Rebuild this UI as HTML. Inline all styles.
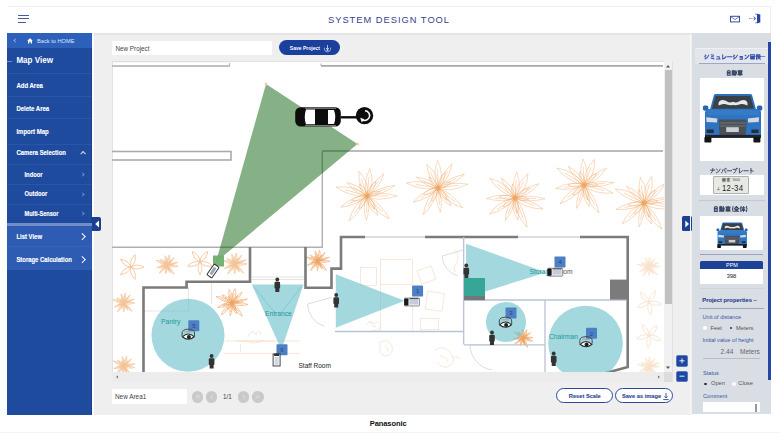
<!DOCTYPE html>
<html><head><meta charset="utf-8">
<style>
*{margin:0;padding:0;box-sizing:border-box}
html,body{width:779px;height:440px;overflow:hidden;background:#fff;font-family:"Liberation Sans",sans-serif}
.a{position:absolute}
.t{position:absolute;white-space:nowrap;line-height:1}
#topline{left:8px;top:6px;width:762px;height:1px;background:#f0f0f0}
.hb{left:18px;width:11px;height:1.3px;background:#4a5ba6}
#title{left:328px;top:15.8px;font-size:9.3px;letter-spacing:1px;color:#34428a}
#gray{left:94.3px;top:33px;width:597.7px;height:382px;background:#efefef;border-top:2px solid #e4e4e4}
#side{left:7px;top:33px;width:85px;height:382px;background:#1f4b9f;border-right:1px solid #1a3f8c}
#home{left:7px;top:33px;width:85px;height:15px;background:#2c60bb}
.mi{left:16.4px;font-size:6px;font-weight:bold;color:#fff;transform:scaleY(1.1);transform-origin:0 50%;-webkit-text-stroke:0.12px #fff}
.sub{left:24.5px;font-size:5.8px;font-weight:bold;color:#fff;transform:scaleY(1.1);transform-origin:0 50%;-webkit-text-stroke:0.12px #fff}
.dv{position:absolute;left:7px;width:85px;height:1px;background:#2a55a8}
.chev{position:absolute;width:3.5px;height:3.5px;border-right:1px solid #d0dcf2;border-top:1px solid #d0dcf2;transform:rotate(45deg)}
#rp{left:691.5px;top:33px;width:79px;height:381px;background:#d9dde4}
.rt{font-size:6px;font-weight:bold;color:#3d4f8f}
.wbox{position:absolute;background:#fff}
.inp{position:absolute;background:#fff;font-size:6.3px;color:#444}
.pbtn{position:absolute;width:11.4px;height:11.4px;border-radius:50%;background:#c9c9c9}
.obtn{position:absolute;height:15px;border:1.6px solid #2c4a9a;border-radius:8px;background:#fff;color:#34488f;font-size:5.7px;font-weight:bold;line-height:14.2px;text-align:center;-webkit-text-stroke:0.12px #34488f;border-width:1.8px}
.zbtn{position:absolute;width:12px;height:11.5px;border-radius:2px;background:#1f47a0;color:#fff;font-size:9px;line-height:11px;text-align:center}
.blab{font-size:5.6px;color:#3a55a8}
.glab{font-size:5.7px;color:#555}
</style></head><body>
<div class="a" id="topline"></div><div class="a" style="left:770.3px;top:6px;width:0.8px;height:27px;background:#f0f0f0"></div>
<div class="a hb" style="top:14.5px"></div>
<div class="a hb" style="top:18.2px"></div>
<div class="a hb" style="top:21.8px;width:7.5px"></div>
<div class="t" id="title">SYSTEM DESIGN TOOL</div>
<!-- mail icon -->
<svg class="a" style="left:729px;top:15px" width="12" height="8" viewBox="0 0 12 8"><rect x="1.5" y="1.3" width="9" height="5.6" fill="none" stroke="#3b4d9a" stroke-width="1"/><path d="M2 1.8 L6 4.6 L10 1.8" fill="none" stroke="#3b4d9a" stroke-width="0.7"/></svg>
<!-- exit icon -->
<svg class="a" style="left:748px;top:13px" width="14" height="11" viewBox="0 0 14 11"><path d="M1 5.5 H7.5" stroke="#6f7fb8" stroke-width="0.8" stroke-dasharray="1.5 0.7"/><path d="M5.6 3.6 L7.8 5.5 L5.6 7.4" fill="none" stroke="#3b4d9a" stroke-width="0.9"/><path d="M7.2 1.2 H9.5 M7.2 9.8 H9.5" stroke="#5a6fb5" stroke-width="0.9"/><path d="M9 0.7 L12.3 1.6 V9.4 L9 10.3 Z" fill="#2347a8"/></svg>

<div class="a" id="gray"></div>
<div class="a" id="side"></div>
<div class="a" id="home"></div>
<div class="chev" style="left:14.3px;top:39px;transform:rotate(-135deg);border-color:#8fa8d8;width:3px;height:3px;border-width:0.8px"></div>
<svg class="a" style="left:27.3px;top:37.6px" width="6" height="6" viewBox="0 0 6 6"><path d="M0.2 2.8 L3 0.2 L5.8 2.8 L5 2.8 L5 5.4 L3.7 5.4 L3.7 3.8 L2.3 3.8 L2.3 5.4 L1 5.4 L1 2.8 Z" fill="#fff"/></svg>
<div class="t" style="left:37px;top:38.2px;font-size:6.1px;color:#dfe7f7;transform:scaleX(0.93);transform-origin:0 0">Back to HOME</div>
<div class="a" style="left:7px;top:60.5px;width:5px;height:1px;background:#6d8fd0"></div>
<div class="t" style="left:16.4px;top:57.4px;font-size:8.06px;font-weight:bold;color:#fff;transform:scaleY(1.08);transform-origin:0 50%">Map View</div>
<div class="dv" style="top:73px"></div>
<div class="t mi" style="top:82.9px">Add Area</div>
<div class="dv" style="top:95.7px"></div>
<div class="t mi" style="top:105.6px">Delete Area</div>
<div class="dv" style="top:118.4px"></div>
<div class="t mi" style="top:128.6px">Import Map</div>
<div class="dv" style="top:143.5px"></div>
<div class="t mi" style="left:16.4px;top:151.2px;font-size:5.9px">Camera Selection</div>
<div class="chev" style="left:81px;top:152px;transform:rotate(-45deg)"></div>
<div class="dv" style="top:164px"></div>
<div class="t sub" style="top:172.8px">Indoor</div>
<div class="chev" style="left:81px;top:173px;width:3px;height:3px;border-color:#6f90cf;border-width:0.8px"></div>
<div class="dv" style="top:184px"></div>
<div class="t sub" style="top:191.9px">Outdoor</div>
<div class="chev" style="left:81px;top:192.5px;width:3px;height:3px;border-color:#6f90cf;border-width:0.8px"></div>
<div class="dv" style="top:203.5px"></div>
<div class="t sub" style="top:211.5px;font-size:5.6px;transform:scaleY(1.2)">Multi-Sensor</div>
<div class="chev" style="left:81px;top:212px;width:3px;height:3px;border-color:#6f90cf;border-width:0.8px"></div>
<div class="a" style="left:7px;top:223px;width:85px;height:3px;background:#6f8ec9"></div>
<div class="a" style="left:7px;top:226px;width:85px;height:43.5px;background:#2d5cb2"></div>
<div class="dv" style="top:246px;background:#3565bb"></div>
<div class="t mi" style="top:235.2px;font-size:5.95px">List View</div>
<div class="chev" style="left:80px;top:234px;width:4.5px;height:4.5px;border-color:#fff"></div>
<div class="t mi" style="top:257.8px;font-size:5.92px">Storage Calculation</div>
<div class="chev" style="left:80px;top:257px;width:4.5px;height:4.5px;border-color:#fff"></div>
<!-- collapse tab -->
<div class="a" style="left:91.5px;top:216.5px;width:9.5px;height:14.5px;background:#1c3f91;border-radius:0 2px 2px 0"></div>
<svg class="a" style="left:93px;top:219px" width="8" height="10" viewBox="0 0 8 10"><path d="M6 1.5 L2.2 5 L6 8.5 Z" fill="#fff"/></svg>

<!-- project name + save -->
<div class="inp" style="left:111.5px;top:40.5px;width:160px;height:14.7px;padding:4.5px 0 0 4px">New Project</div>
<div class="a" style="left:278.5px;top:40.2px;width:61.5px;height:15.3px;border-radius:8px;background:#1b409c"></div>
<div class="t" style="left:289.8px;top:45.5px;font-size:5.03px;font-weight:bold;color:#fff">Save Project</div>
<svg class="a" style="left:323.2px;top:43.8px" width="9" height="9" viewBox="0 0 9 9"><path d="M4.5 1 V5.2" stroke="#d8e0f4" stroke-width="0.8"/><path d="M3.2 4 L4.5 5.6 L5.8 4" fill="none" stroke="#d8e0f4" stroke-width="0.8"/><path d="M1.3 3.6 Q1.3 7.8 4.5 7.8 Q7.7 7.8 7.7 3.6" fill="none" stroke="#b9c6ea" stroke-width="0.8"/><rect x="3.6" y="5.6" width="1.8" height="1.1" fill="#fff"/></svg>

<!-- map frame -->
<div class="a" id="map" style="left:111.5px;top:61px;width:561px;height:321px;background:#fff;border:0.8px solid #e2e2e2"></div>
<svg class="a" style="left:112px;top:61px" width="552" height="311" viewBox="112 61 552 311"><defs><g id="fl"><path d="M0 0 Q7.3 -12.2 0 -27.6 Q-5.8 -12.2 0 0Z M0 -2 L0 -19.3" transform="rotate(-0.9)"/><path d="M0 0 Q5.5 -12.6 0 -27.9 Q-4.4 -12.6 0 0Z M0 -2 L0 -19.5" transform="rotate(30.1)"/><path d="M0 0 Q5.2 -12.3 0 -29.9 Q-4.2 -12.3 0 0Z M0 -2 L0 -21.0" transform="rotate(62.3)"/><path d="M0 0 Q6.7 -10.8 0 -30.1 Q-5.4 -10.8 0 0Z M0 -2 L0 -21.1" transform="rotate(82.6)"/><path d="M0 0 Q6.6 -15.0 0 -31.6 Q-5.3 -15.0 0 0Z M0 -2 L0 -22.2" transform="rotate(128.7)"/><path d="M0 0 Q6.3 -8.0 0 -22.2 Q-5.1 -8.0 0 0Z M0 -2 L0 -15.5" transform="rotate(143.8)"/><path d="M0 0 Q5.1 -10.8 0 -24.4 Q-4.1 -10.8 0 0Z M0 -2 L0 -17.1" transform="rotate(174.4)"/><path d="M0 0 Q6.3 -14.5 0 -30.4 Q-5.0 -14.5 0 0Z M0 -2 L0 -21.3" transform="rotate(208.9)"/><path d="M0 0 Q6.1 -11.6 0 -28.6 Q-4.9 -11.6 0 0Z M0 -2 L0 -20.0" transform="rotate(240.0)"/><path d="M0 0 Q7.1 -15.7 0 -32.0 Q-5.7 -15.7 0 0Z M0 -2 L0 -22.4" transform="rotate(279.0)"/><path d="M0 0 Q5.7 -8.8 0 -24.3 Q-4.6 -8.8 0 0Z M0 -2 L0 -17.0" transform="rotate(296.7)"/><path d="M0 0 Q7.1 -11.1 0 -26.0 Q-5.7 -11.1 0 0Z M0 -2 L0 -18.2" transform="rotate(334.8)"/><path d="M0 0 Q4 -8.6 0 -17.2 Q-4 -8.6 0 0Z" transform="rotate(24.2)"/><path d="M0 0 Q4 -7.0 0 -14.0 Q-4 -7.0 0 0Z" transform="rotate(65.0)"/><path d="M0 0 Q4 -7.7 0 -15.3 Q-4 -7.7 0 0Z" transform="rotate(143.2)"/><path d="M0 0 Q4 -7.5 0 -15.0 Q-4 -7.5 0 0Z" transform="rotate(204.6)"/><path d="M0 0 Q4 -8.1 0 -16.1 Q-4 -8.1 0 0Z" transform="rotate(246.5)"/><path d="M0 0 Q4 -7.2 0 -14.3 Q-4 -7.2 0 0Z" transform="rotate(320.6)"/><circle r="2.6" fill="currentColor" stroke="none" opacity="0.7"/></g><g id="lily"><path d="M0 0 Q9 -14 0 -30 Q-9 -14 0 0Z" transform="rotate(10)"/><path d="M0 0 Q9 -14 0 -30 Q-9 -14 0 0Z" transform="rotate(82)"/><path d="M0 0 Q9 -14 0 -30 Q-9 -14 0 0Z" transform="rotate(154)"/><path d="M0 0 Q9 -14 0 -30 Q-9 -14 0 0Z" transform="rotate(226)"/><path d="M0 0 Q9 -14 0 -30 Q-9 -14 0 0Z" transform="rotate(298)"/></g></defs><g fill="none"><use href="#fl" transform="translate(367 196) scale(1.000) rotate(7)" style="color:#efa462" stroke="#efa462" stroke-width="0.38"/><use href="#fl" transform="translate(438 188) scale(1.000) rotate(0)" style="color:#efa462" stroke="#efa462" stroke-width="0.38"/><use href="#fl" transform="translate(515 198) scale(1.000) rotate(29)" style="color:#efa462" stroke="#efa462" stroke-width="0.38"/><use href="#fl" transform="translate(584 185) scale(1.000) rotate(23)" style="color:#efa462" stroke="#efa462" stroke-width="0.38"/><use href="#fl" transform="translate(644 203) scale(1.000) rotate(17)" style="color:#efa462" stroke="#efa462" stroke-width="0.38"/><use href="#fl" transform="translate(167 265) scale(0.367) rotate(14)" style="color:#f4c397" stroke="#f4c397" stroke-width="1.91"/><use href="#fl" transform="translate(235 264) scale(0.400) rotate(7)" style="color:#f4c397" stroke="#f4c397" stroke-width="1.75"/><use href="#fl" transform="translate(318 261) scale(0.400) rotate(9)" style="color:#efa462" stroke="#efa462" stroke-width="1.38"/><use href="#fl" transform="translate(124 303) scale(0.367) rotate(7)" style="color:#f4c397" stroke="#f4c397" stroke-width="1.91"/><use href="#fl" transform="translate(232 303) scale(0.533) rotate(13)" style="color:#efa462" stroke="#efa462" stroke-width="1.03"/><use href="#fl" transform="translate(124 366) scale(0.367) rotate(16)" style="color:#f4c397" stroke="#f4c397" stroke-width="1.91"/><use href="#fl" transform="translate(523 338) scale(0.333) rotate(25)" style="color:#efa462" stroke="#efa462" stroke-width="1.80"/><use href="#fl" transform="translate(649 267) scale(0.367) rotate(4)" style="color:#f9e2cc" stroke="#f9e2cc" stroke-width="1.91"/><use href="#fl" transform="translate(649 367) scale(0.367) rotate(4)" style="color:#f9e2cc" stroke="#f9e2cc" stroke-width="1.91"/><use href="#lily" transform="translate(131 267) scale(0.433) rotate(8)" style="color:#f4c397" stroke="#f4c397" stroke-width="1.85"/><use href="#lily" transform="translate(200 262) scale(0.433) rotate(26)" style="color:#f4c397" stroke="#f4c397" stroke-width="1.85"/><use href="#lily" transform="translate(649 302) scale(0.433) rotate(19)" style="color:#f9e2cc" stroke="#f9e2cc" stroke-width="1.85"/><use href="#lily" transform="translate(649 335.5) scale(0.433) rotate(30)" style="color:#f9e2cc" stroke="#f9e2cc" stroke-width="1.85"/></g><g fill="none" stroke="#b9b9b9" stroke-width="1.2"><path d="M112 61.8 H229.5" stroke="#dcdcdc" stroke-width="0.8"/><path d="M229.5 63 V66.5"/><path d="M112 66 H229.5" stroke="#acacac" stroke-width="1.6"/><path d="M321 66 V63.5"/><path d="M321 65.8 H663" stroke="#a9a9a9" stroke-width="1.8"/><rect x="111" y="151.5" width="120" height="8.5" stroke="#aaaaaa" stroke-width="1.6"/><path d="M322.3 151 H663" stroke="#a5a5a5" stroke-width="1.6"/><path d="M322.3 151 V247.3 H112" stroke="#b0b0b0" stroke-width="1.4"/></g><g fill="none" stroke="#d8d8d8" stroke-width="0.7"><path d="M188.4 287 V311 H144"/><path d="M211.6 282 V304"/><path d="M252 277 H305 M252 279.5 H305"/><path d="M224 341 H300 M224 353.4 H300" stroke="#f5dcc6"/></g><g fill="none" stroke="#f3d9c4" stroke-width="0.6"><rect x="380.5" y="259.3" width="32" height="25"/><rect x="360.5" y="267.3" width="16" height="18"/><rect x="419" y="268" width="15" height="14" transform="rotate(-20 426.5 275)"/><rect x="426.4" y="292.3" width="17" height="18" transform="rotate(8 435 301)"/><rect x="420.7" y="318.4" width="18" height="11.4"/><path d="M380.5 284.3 V331 M412.7 284.3 V331"/><path d="M248 337 q4 -10 8 -2 q3 -8 5 0 M244 340 q10 6 20 0 M236 341 H275 M240.5 344 V352"/><path d="M366 325 q4 -6 8 -1 q5 -5 7 2 q-3 6 -9 4 M370 321 q2 6 6 6"/><path d="M380 342 q8 -4 12 4 q2 8 -6 10 q-8 0 -6 -14 M385 346 q4 2 3 6"/><path d="M435 350 q10 -6 16 4 q6 8 -2 12 q-6 4 -12 -4 M440 356 q6 0 8 6 M452 358 q4 -3 8 1"/><path d="M455 250 q5 6 2 12 q-4 4 -2 10"/></g><g fill="none" stroke="#cfcfcf" stroke-width="0.7"><path d="M307.5 304 L331.7 297.4 M307.5 304 A24 24 0 0 0 324.3 326.3"/><path d="M442 256 L463 250 M442 256 A22 22 0 0 0 458 276"/><path d="M470 345 A26 26 0 0 0 492 370 M470 345 L492 345"/><path d="M254 287 Q266 302 276 314 M301 287 Q290 302 280 314" stroke="#8cc3cc"/></g><g fill="none" stroke="#7b7b7b" stroke-width="2.6" stroke-linejoin="miter"><path d="M143.5 372 V287.5 H186.6 V281.8 H250 V247"/><path d="M305.5 247 V287.7 H331.5 V268.6 H341 V237 H365"/><path d="M425 237 H518 M580 237 H627.7 V367 L606 373"/></g><g stroke="#c9c9c9" stroke-width="2.2"><path d="M365 237 H425 M518 237 H580"/></g><path d="M365 237 H425 M518 237 H580" stroke="#fff" stroke-width="0.8"/><g fill="none" stroke="#b9c3d6" stroke-width="1.3"><path d="M335 331.5 H464 M463.7 237 V344.5"/><path d="M464 300 H627 M545 300 V372 M464 344.8 H545"/></g><rect x="610" y="279.6" width="17" height="20" fill="#7b7b7b"/><path d="M266 84 L357.5 144 L216 262 Z" fill="#005800" fill-opacity="0.475"/><circle cx="266" cy="84" r="1.5" fill="#f6c9b0"/><circle cx="357.5" cy="144" r="1.5" fill="#f6c9b0"/><circle cx="188" cy="335.3" r="36.5" fill="#66bec8" fill-opacity="0.6"/><path d="M251.8 284.5 H303.5 L281.4 349.8 Z" fill="#66bec8" fill-opacity="0.6"/><path d="M335.8 274.3 V327.8 L404.5 300.7 Z" fill="#66bec8" fill-opacity="0.6"/><path d="M466 243.7 V297.5 L546 272.4 Z" fill="#66bec8" fill-opacity="0.6"/><circle cx="506" cy="322" r="20" fill="#66bec8" fill-opacity="0.6"/><circle cx="585.5" cy="343" r="37.3" fill="#66bec8" fill-opacity="0.6"/><rect x="464" y="278" width="21" height="22" fill="#36a698"/><rect x="464" y="296" width="21" height="4.2" fill="#727878"/><g font-family="Liberation Sans" font-size="6.7" fill="#199a9a"><text x="161" y="324">Pantry</text><text x="265" y="316">Entrance</text><text x="529.5" y="273.5"><tspan>Storage</tspan><tspan fill="#555"> Room</tspan></text><text x="549" y="339">Chairman</text></g><text x="298.5" y="367.6" font-family="Liberation Sans" font-size="6.5" fill="#222">Staff Room</text><rect x="188.3" y="320.2" width="11" height="11" rx="0.8" fill="#4d7fc4"/><text x="193.8" y="327.9" font-family="Liberation Sans" font-size="6" text-anchor="middle" fill="#25447f">5</text><rect x="276.5" y="344.3" width="11" height="11" rx="0.8" fill="#4d7fc4"/><text x="282" y="352.0" font-family="Liberation Sans" font-size="6" text-anchor="middle" fill="#25447f">6</text><rect x="412.1" y="285.6" width="11" height="11" rx="0.8" fill="#4d7fc4"/><text x="417.6" y="293.3" font-family="Liberation Sans" font-size="6" text-anchor="middle" fill="#25447f">1</text><rect x="554.5" y="256.5" width="11" height="11" rx="0.8" fill="#4d7fc4"/><text x="560" y="264.2" font-family="Liberation Sans" font-size="6" text-anchor="middle" fill="#25447f">4</text><rect x="505.5" y="307.5" width="11" height="11" rx="0.8" fill="#4d7fc4"/><text x="511" y="315.2" font-family="Liberation Sans" font-size="6" text-anchor="middle" fill="#25447f">3</text><rect x="586.0" y="327.8" width="11" height="11" rx="0.8" fill="#4d7fc4"/><text x="591.5" y="335.5" font-family="Liberation Sans" font-size="6" text-anchor="middle" fill="#25447f">2</text><g transform="translate(188.3 335)"><path d="M-6.2 1 V-2 Q-6.2 -5.8 0 -5.8 Q6.2 -5.8 6.2 -2 V1" fill="none" stroke="#4a4a4a" stroke-width="1"/><path d="M-4 -3.2 H4" stroke="#888" stroke-width="0.6"/><path d="M-6 1.8 Q0 -3.8 6 1.8 Q0 6.6 -6 1.8Z" fill="#fff" stroke="#2b2b2b" stroke-width="1.1"/><circle cx="0.6" cy="2" r="2" fill="#1e1e1e"/></g><g transform="translate(505.5 323)"><path d="M-6.2 1 V-2 Q-6.2 -5.8 0 -5.8 Q6.2 -5.8 6.2 -2 V1" fill="none" stroke="#4a4a4a" stroke-width="1"/><path d="M-4 -3.2 H4" stroke="#888" stroke-width="0.6"/><path d="M-6 1.8 Q0 -3.8 6 1.8 Q0 6.6 -6 1.8Z" fill="#fff" stroke="#2b2b2b" stroke-width="1.1"/><circle cx="0.6" cy="2" r="2" fill="#1e1e1e"/></g><g transform="translate(586 342.5)"><path d="M-6.2 1 V-2 Q-6.2 -5.8 0 -5.8 Q6.2 -5.8 6.2 -2 V1" fill="none" stroke="#4a4a4a" stroke-width="1"/><path d="M-4 -3.2 H4" stroke="#888" stroke-width="0.6"/><path d="M-6 1.8 Q0 -3.8 6 1.8 Q0 6.6 -6 1.8Z" fill="#fff" stroke="#2b2b2b" stroke-width="1.1"/><circle cx="0.6" cy="2" r="2" fill="#1e1e1e"/></g><g transform="translate(412 302)"><rect x="-7.5" y="-4" width="15" height="8" rx="0.8" fill="#e4e8f0" stroke="#555" stroke-width="0.6"/><rect x="-7.8" y="-3.6" width="4.2" height="7.2" rx="0.8" fill="#1a1a1a"/><rect x="-2.5" y="-2.2" width="8.5" height="4.4" fill="#c3cbdc"/><rect x="-2.5" y="-4" width="9" height="1.2" fill="#555"/></g><g transform="translate(555.2 272.2)"><rect x="-7.5" y="-4" width="15" height="8" rx="0.8" fill="#e4e8f0" stroke="#555" stroke-width="0.6"/><rect x="-7.8" y="-3.6" width="4.2" height="7.2" rx="0.8" fill="#1a1a1a"/><rect x="-2.5" y="-2.2" width="8.5" height="4.4" fill="#c3cbdc"/><rect x="-2.5" y="-4" width="9" height="1.2" fill="#555"/></g><g transform="translate(276.6 360)"><rect x="-3.5" y="-6" width="7" height="12" fill="#fff" stroke="#333" stroke-width="0.9"/><rect x="-2.5" y="-6.5" width="5" height="2.5" fill="#333"/><rect x="-2" y="-3" width="4" height="8" fill="#cfd8e6"/></g><rect x="213" y="255.5" width="11" height="11" fill="#6fae6a" opacity="0.95"/><g transform="translate(213 271) rotate(35)"><rect x="-3" y="-6.5" width="6" height="13" rx="1" fill="#fff" stroke="#333" stroke-width="1"/><rect x="-1.5" y="-4" width="3" height="8" fill="#9aa7bd"/></g><g fill="#333"><circle cx="211.6" cy="356" r="1.9"/><rect x="208.79999999999998" y="358.3" width="5.6" height="6.8" rx="1.2"/><rect x="209.6" y="364" width="4" height="4.5"/></g><g fill="#333"><circle cx="277.3" cy="279.5" r="1.9"/><rect x="274.5" y="281.8" width="5.6" height="6.8" rx="1.2"/><rect x="275.3" y="287.5" width="4" height="4.5"/></g><g fill="#333"><circle cx="336.2" cy="295" r="1.9"/><rect x="333.4" y="297.3" width="5.6" height="6.8" rx="1.2"/><rect x="334.2" y="303" width="4" height="4.5"/></g><g fill="#333"><circle cx="466.3" cy="265.5" r="1.9"/><rect x="463.5" y="267.8" width="5.6" height="6.8" rx="1.2"/><rect x="464.3" y="273.5" width="4" height="4.5"/></g><g fill="#333"><circle cx="492" cy="332.5" r="1.9"/><rect x="489.2" y="334.8" width="5.6" height="6.8" rx="1.2"/><rect x="490" y="340.5" width="4" height="4.5"/></g><g fill="#333"><circle cx="553.7" cy="353.5" r="1.9"/><rect x="550.9000000000001" y="355.8" width="5.6" height="6.8" rx="1.2"/><rect x="551.7" y="361.5" width="4" height="4.5"/></g><g><rect x="295.2" y="107.2" width="45.6" height="19.4" rx="5.5" fill="#0d0d0d"/><path d="M306 109.5 Q303.5 117 306 124.3 H315 V109.5 Z" fill="#fff"/><path d="M328 110 H334 Q336.5 117 334 124 H328 Z" fill="#fff"/><path d="M305 108.3 H336 M305 125.6 H336" stroke="#fff" stroke-width="0.5"/><path d="M340.5 117.3 H357" stroke="#0d0d0d" stroke-width="2.4"/><circle cx="364.5" cy="115.6" r="8.7" fill="#0d0d0d"/><path d="M365 110.8 A4.8 4.8 0 1 1 362.5 119.8" fill="none" stroke="#fff" stroke-width="1.5"/><path d="M360.2 117.8 L364.5 119.3 L361.8 122.5 Z" fill="#fff"/></g></svg><div class="a" style="left:664px;top:61px;width:8px;height:311px;background:#f1f1f1"></div><div class="a" style="left:664.5px;top:70.3px;width:7px;height:234px;background:#c1c1c1"></div><svg class="a" style="left:664px;top:63px" width="8" height="6"><path d="M2 4.5 L4 2 L6 4.5Z" fill="#555"/></svg><svg class="a" style="left:664px;top:365px" width="8" height="6"><path d="M2 1.5 L4 4 L6 1.5Z" fill="#555"/></svg><div class="a" style="left:112px;top:372px;width:552px;height:9.5px;background:#ececec"></div><div class="a" style="left:664px;top:372px;width:8px;height:9.5px;background:#dcdcdc"></div><svg class="a" style="left:114px;top:374px" width="6" height="6"><path d="M4 1.5 L2 3 L4 4.5Z" fill="#777"/></svg><svg class="a" style="left:656px;top:374px" width="6" height="6"><path d="M2 1.5 L4 3 L2 4.5Z" fill="#777"/></svg>

<!-- bottom controls -->
<div class="inp" style="left:112px;top:389px;width:75.3px;height:14.5px;padding:3.7px 0 0 3px;font-size:6.4px">New Area1</div>
<div class="pbtn" style="left:191.8px;top:391.3px"></div>
<div class="pbtn" style="left:205.6px;top:391.3px"></div><svg class="a" style="left:191.8px;top:391.3px" width="12" height="12"><path d="M6.3 3.8 L4.3 5.7 L6.3 7.6 M8.3 3.8 L6.3 5.7 L8.3 7.6" fill="none" stroke="#e8e8e8" stroke-width="0.7"/></svg><svg class="a" style="left:205.6px;top:391.3px" width="12" height="12"><path d="M6.8 3.8 L4.8 5.7 L6.8 7.6" fill="none" stroke="#e8e8e8" stroke-width="0.7"/></svg>
<div class="t" style="left:223px;top:394px;font-size:6.3px;color:#444">1/1</div>
<div class="pbtn" style="left:237.9px;top:391.3px"></div>
<div class="pbtn" style="left:252.3px;top:391.3px"></div><svg class="a" style="left:237.9px;top:391.3px" width="12" height="12"><path d="M4.8 3.8 L6.8 5.7 L4.8 7.6" fill="none" stroke="#e8e8e8" stroke-width="0.7"/></svg><svg class="a" style="left:252.3px;top:391.3px" width="12" height="12"><path d="M3.3 3.8 L5.3 5.7 L3.3 7.6 M5.3 3.8 L7.3 5.7 L5.3 7.6" fill="none" stroke="#e8e8e8" stroke-width="0.7"/></svg>
<div class="obtn" style="left:556.3px;top:388.3px;width:57px">Reset Scale</div>
<div class="obtn" style="left:615.4px;top:388.3px;width:57.3px;text-align:left;padding-left:5.5px">Save as image</div>
<svg class="a" style="left:662px;top:392px" width="8" height="9" viewBox="0 0 8 9"><path d="M4 1 V6" stroke="#34488f" stroke-width="0.9"/><path d="M2.3 4.3 L4 6 L5.7 4.3" fill="none" stroke="#34488f" stroke-width="0.8"/><path d="M1.2 7.6 H6.8" stroke="#34488f" stroke-width="0.9"/></svg>
<div class="zbtn" style="left:675.7px;top:355.3px;border:0.6px solid #5a78c0"></div>
<div class="zbtn" style="left:675.7px;top:370.7px;border:0.6px solid #5a78c0"></div>
<svg class="a" style="left:675.7px;top:355.3px" width="12" height="27"><path d="M6 3.3 V8.3 M3.5 5.8 H8.5 M3.5 21.2 H8.5" stroke="#fff" stroke-width="0.9"/></svg>
<!-- expand tab right -->
<div class="a" style="left:682.4px;top:216.4px;width:9.4px;height:14.8px;background:#1c3f91;border-radius:1.5px"></div>
<svg class="a" style="left:682.4px;top:217px" width="10" height="14" viewBox="0 0 10 14"><path d="M3.3 3.5 L7 7 L3.3 10.5 Z" fill="#fff"/></svg>

<!-- right panel -->
<div class="a" id="rp"></div>
<div class="a" style="left:768px;top:42px;width:3px;height:338px;background:#2446a6"></div>
<div class="a" style="left:695px;top:48px;width:73px;height:15.5px;background:#e3e6eb;border-top:0.8px solid #eef0f3"></div><div class="a" style="left:689.8px;top:33px;width:1.2px;height:381px;background:#f6f6f6"></div>
<svg class="a" style="left:703.6px;top:54.2px;overflow:visible" width="57.20" height="5.50" viewBox="0 0 104.00 10"><g fill="none" stroke="#3550b0" stroke-width="1.85" stroke-linecap="round" stroke-linejoin="round"><path transform="translate(0.00 0)" d="M2 1.8 L3.6 3 M1.3 4.6 L2.9 5.8 M1.8 9.2 Q6.5 7.8 8.8 2"/><path transform="translate(10.40 0)" d="M2.8 1.2 L7.2 2.4 M3.2 4.3 L7 5.4 M2.4 7.4 L7.8 9.2"/><path transform="translate(20.80 0)" d="M2.8 5.2 H7 V9 M1.8 9 H8.6"/><path transform="translate(31.20 0)" d="M2.8 1.2 V9.2 Q6.5 8.2 8.8 4.8"/><path transform="translate(41.60 0)" d="M0.8 5.2 H9.2"/><path transform="translate(52.00 0)" d="M2 1.8 L3.6 3 M1.3 4.6 L2.9 5.8 M1.8 9.2 Q6.5 7.8 8.8 2"/><path transform="translate(62.40 0)" d="M3 4.6 H7.4 V9.4 H3 M3 7 H7.4"/><path transform="translate(72.80 0)" d="M1.8 2.2 L3.6 3.6 M1.6 9.2 Q6.5 7.8 8.8 2.2"/><path transform="translate(83.20 0)" d="M1 1.4 H9 M1.6 3.4 V9.2 H8.4 V3.4 M3.4 4.2 H6.6 V7.6 H3.4 Z M5 4.2 V7.6 M3.4 5.9 H6.6"/><path transform="translate(93.60 0)" d="M2.6 0.8 L0.9 4.4 M1.9 3 V9.6 M4 1.6 H8.2 V4.2 H4 Z M3.6 5.4 H9.2 M6.6 4.2 L4.2 9 M5.8 6.6 L9.2 9.6 M7.2 6 L8.8 5"/></g></svg><div class="t" style="left:759.6px;top:54.2px;font-size:5.6px;font-weight:bold;color:#3550b0">&#8212;</div>
<div class="a" style="left:699px;top:63px;width:66px;height:1.2px;background:#9ea6cf"></div>
<svg class="a" style="left:725.6px;top:70.2px;overflow:visible" width="16.91" height="5.50" viewBox="0 0 30.75 10"><g fill="none" stroke="#3d4a66" stroke-width="1.9" stroke-linecap="round" stroke-linejoin="round"><path transform="translate(0.00 0)" d="M5.2 0.4 L4.6 1.8 M2.4 1.8 H7.6 V9.6 H2.4 Z M2.4 4.4 H7.6 M2.4 7 H7.6"/><path transform="translate(10.25 0)" d="M0.8 1.4 H5 M2.9 0.4 V9.2 M1 2.8 H4.8 V6.2 H1 Z M1 4.5 H4.8 M1 7.6 H4.8 M0.6 9.2 H5.2 M5.6 3.4 H9 Q9 9 7.2 9.6 M7.6 0.8 Q7.6 7.4 5.4 9.6"/><path transform="translate(20.50 0)" d="M1 1.6 H9 M5 0.4 V9.8 M2 3.2 H8 V7 H2 Z M2 5.1 H8 M0.8 8.6 H9.2"/></g></svg>
<div class="wbox" style="left:699.5px;top:78px;width:64.5px;height:83px"></div>
<svg class="a" style="left:702px;top:93px" width="62" height="52" viewBox="0 0 62 52"><defs><g id="car">
<path d="M12 1.8 Q12.5 1 14 1 H48 Q49.5 1 50 1.8 L54 16.5 H8 Z" fill="#2c6fbd"/>
<path d="M13.6 3 H48.4 L52 15.8 H10 Z" fill="#3a4048"/>
<path d="M16.5 12.4 Q16 8 19 7.2 Q23 6.6 25 8.6 Q28 10.2 31 8.8 Q34 10.2 37 8.6 Q39 6.6 43 7.2 Q46 8 45.5 12.4 Q42 10.5 39 11 Q36 12.5 31 12 Q26 12.5 23 11 Q20 10.5 16.5 12.4Z" fill="#e6e9ec"/>
<rect x="0.9" y="12.4" width="5.4" height="5.3" rx="1.8" fill="#2865ad"/>
<rect x="54.9" y="12.4" width="5.4" height="5.3" rx="1.8" fill="#2865ad"/>
<path d="M7 16 H55 Q58 16 59 19 V43 Q59 44.5 57.5 44.5 H4.5 Q3 44.5 3 43 V19 Q4 16 7 16Z" fill="#2f74c2"/>
<path d="M5 17 H57 V22 H5Z" fill="#3980cc" opacity="0.6"/>
<path d="M4.1 24.2 L15.3 25.5 L15 29.5 L4.6 29 Z" fill="#d5dae0"/>
<path d="M57.1 24.2 L45.9 25.5 L46.2 29.5 L56.6 29 Z" fill="#d5dae0"/>
<path d="M16.5 26.6 H44.7 L43.7 41.9 H17.5 Z" fill="#4b4f56"/>
<path d="M17.5 30 H43.7 M17.7 33 H43.5" stroke="#8a8e94" stroke-width="0.6"/>
<rect x="24.2" y="34.2" width="12.6" height="4.8" fill="#cdd1d6"/>
<path d="M4.7 36.6 H11.8 V40.1 H4.7Z M49.4 36.6 H56.5 V40.1 H49.4Z" fill="#2a2d33"/>
<rect x="3" y="41.9" width="56" height="3" fill="#1f2329"/>
<rect x="2.4" y="44" width="7" height="5.6" rx="0.8" fill="#141414"/>
<rect x="51.4" y="44" width="7" height="5.6" rx="0.8" fill="#141414"/>
</g></defs><use href="#car"/></svg>
<svg class="a" style="left:710px;top:167.6px;overflow:visible" width="44.65" height="5.30" viewBox="0 0 84.24 10"><g fill="none" stroke="#3d4a66" stroke-width="1.8" stroke-linecap="round" stroke-linejoin="round"><path transform="translate(0.00 0)" d="M0.8 4 H9.2 M5.6 0.8 Q5.6 7.2 2.4 9.6"/><path transform="translate(10.53 0)" d="M1.8 2.2 L3.6 3.6 M1.6 9.2 Q6.5 7.8 8.8 2.2"/><path transform="translate(21.06 0)" d="M3.4 3 Q3.2 7 1 9.2 M5.8 3 Q7 6.4 9 9 M7.4 0.8 L8 2 M8.8 0.4 L9.4 1.6"/><path transform="translate(31.59 0)" d="M0.8 5.2 H9.2"/><path transform="translate(42.12 0)" d="M1.2 2.6 H7.2 Q7.2 7.4 3 9.6 M8.6 0.9 m-0.9 0 a0.9 0.9 0 1 0 1.8 0 a0.9 0.9 0 1 0 -1.8 0"/><path transform="translate(52.65 0)" d="M2.8 1.2 V9.2 Q6.5 8.2 8.8 4.8"/><path transform="translate(63.18 0)" d="M0.8 5.2 H9.2"/><path transform="translate(73.71 0)" d="M3.6 0.8 V9.6 M3.6 4.4 L7.8 6"/></g></svg>
<div class="wbox" style="left:699.5px;top:175.4px;width:64.5px;height:20px"></div>
<div class="a" style="left:713.2px;top:176.1px;width:35.5px;height:18.1px;background:#e6e9e4;border:1px solid #b0b2ae;border-radius:1px"></div><svg class="a" style="left:722px;top:178.2px;overflow:visible" width="8.80" height="4.00" viewBox="0 0 22.00 10"><g fill="none" stroke="#3b4a3b" stroke-width="1.3" stroke-linecap="round" stroke-linejoin="round"><path transform="translate(0.00 0)" d="M1 1.8 H9 M5 0.4 V9.8 M2 3.2 H8 V6.4 H2 Z M2 4.8 H8 M5 6.4 L1 9.4 M5 6.4 L9 9.4"/><path transform="translate(11.00 0)" d="M5 0.4 V1.6 M1 1.6 H9 M2.6 3 H7.4 V5.6 H2.6 Z M5 5.6 V9.6 L4 9.2 M3 7 L1.6 9 M7 7 L8.4 9"/></g></svg><div class="t" style="left:732.5px;top:177.9px;font-size:4.4px;color:#3b4a3b">500</div><svg class="a" style="left:716.6px;top:187.3px;overflow:visible" width="3.30" height="3.30" viewBox="0 0 10.00 10"><g fill="none" stroke="#3b4a3b" stroke-width="1.2" stroke-linecap="round" stroke-linejoin="round"><path transform="translate(0.00 0)" d="M5 0.8 L2.2 9.4 M2.8 7 Q4.2 4.8 5.2 6.4 V9 Q7.4 9.8 8.8 7"/></g></svg><div class="t" style="left:721.5px;top:183px;font-size:9.6px;color:#1f2a22;transform:scaleX(0.82);transform-origin:0 0;letter-spacing:0.3px">12-34</div>
<div class="a" style="left:699px;top:200px;width:66px;height:1px;background:#c3c8d2"></div>
<svg class="a" style="left:712.6px;top:205.6px;overflow:visible" width="35.23" height="5.70" viewBox="0 0 61.80 10"><g fill="none" stroke="#3d4a66" stroke-width="1.8" stroke-linecap="round" stroke-linejoin="round"><path transform="translate(0.00 0)" d="M5.2 0.4 L4.6 1.8 M2.4 1.8 H7.6 V9.6 H2.4 Z M2.4 4.4 H7.6 M2.4 7 H7.6"/><path transform="translate(10.68 0)" d="M0.8 1.4 H5 M2.9 0.4 V9.2 M1 2.8 H4.8 V6.2 H1 Z M1 4.5 H4.8 M1 7.6 H4.8 M0.6 9.2 H5.2 M5.6 3.4 H9 Q9 9 7.2 9.6 M7.6 0.8 Q7.6 7.4 5.4 9.6"/><path transform="translate(21.36 0)" d="M1 1.6 H9 M5 0.4 V9.8 M2 3.2 H8 V7 H2 Z M2 5.1 H8 M0.8 8.6 H9.2"/><path transform="translate(32.04 0)" d="M3.2 0.6 Q1.2 5 3.2 9.6"/><path transform="translate(36.24 0)" d="M5 0.8 L0.8 5 M5 0.8 L9.2 5 M2.8 5.4 H7.2 M5 5.4 V9 M2.4 7.2 H7.6 M1.4 9.2 H8.6"/><path transform="translate(46.92 0)" d="M2.6 0.8 L0.9 4.4 M1.9 3 V9.6 M3.8 3.2 H9.2 M6.5 0.8 V9.6 M6.5 3.4 L3.8 8 M6.5 3.4 L9.2 8 M4.8 7.6 H8.2"/><path transform="translate(57.60 0)" d="M1 0.6 Q3 5 1 9.6"/></g></svg>
<div class="wbox" style="left:700.2px;top:216px;width:63px;height:34px"></div>
<svg class="a" style="left:715.5px;top:222px" width="32.5" height="27.3" viewBox="0 0 62 52"><use href="#car"/></svg>
<div class="a" style="left:700px;top:254px;width:63px;height:1.3px;background:#96a3c2"></div>
<div class="a" style="left:700px;top:261px;width:63px;height:8.3px;background:#1d4197;border-radius:1.5px 1.5px 0 0"></div>
<div class="t" style="left:726px;top:262.8px;font-size:5.5px;color:#fff">PPM</div>
<div class="wbox" style="left:700px;top:269.3px;width:63px;height:14.7px"></div>
<div class="t" style="left:726.8px;top:274px;font-size:5.7px;color:#555;-webkit-text-stroke:0.15px #555">398</div>
<div class="a" style="left:699px;top:287.5px;width:66px;height:1px;background:#cfd3da"></div>
<div class="t rt" style="left:702.3px;top:298.2px;font-size:5.8px;color:#2b3f8c;-webkit-text-stroke:0.1px #2b3f8c">Project properties &#8211;</div>
<div class="a" style="left:699px;top:307.5px;width:65px;height:1.2px;background:#9aa5bf"></div>
<div class="t blab" style="left:702.5px;top:315px">Unit of distance</div>
<div class="a" style="left:703.3px;top:326px;width:4px;height:4px;border-radius:50%;background:#fff"></div>
<div class="t glab" style="left:710.5px;top:325.5px">Feet</div>
<div class="a" style="left:729.8px;top:326.8px;width:2.6px;height:2.6px;border-radius:50%;background:#1f2f6a"></div>
<div class="t glab" style="left:736px;top:325.5px">Meters</div>
<div class="t blab" style="left:702.5px;top:337.5px">Initial value of height</div>
<div class="t" style="left:720.6px;top:348.6px;font-size:6.6px;color:#666">2.44</div>
<div class="t" style="left:740px;top:348.6px;font-size:6.5px;color:#666">Meters</div>
<div class="a" style="left:703px;top:358px;width:57px;height:0.8px;background:#b8bdc7"></div>
<div class="t blab" style="left:703px;top:371px;font-size:5.6px">Status</div>
<div class="a" style="left:704.2px;top:382.8px;width:2.6px;height:2.6px;border-radius:50%;background:#1f2f6a"></div>
<div class="t glab" style="left:711px;top:381.3px">Open</div>
<div class="a" style="left:732px;top:382px;width:4px;height:4px;border-radius:50%;background:#fff"></div>
<div class="t glab" style="left:738.3px;top:381.3px">Close</div>
<div class="t blab" style="left:703px;top:393.5px">Comment</div>
<div class="wbox" style="left:703px;top:402.3px;width:56.5px;height:10px"></div>
<div class="a" style="left:755px;top:403.5px;width:1.5px;height:8px;background:#999"></div>

<!-- footer -->
<div class="a" style="left:0;top:432px;width:779px;height:1px;background:#f4f4f4"></div>
<div class="t" style="left:369.8px;top:420px;font-size:7.52px;font-weight:bold;color:#111;letter-spacing:-0.1px">Panasonic</div>
</body></html>
